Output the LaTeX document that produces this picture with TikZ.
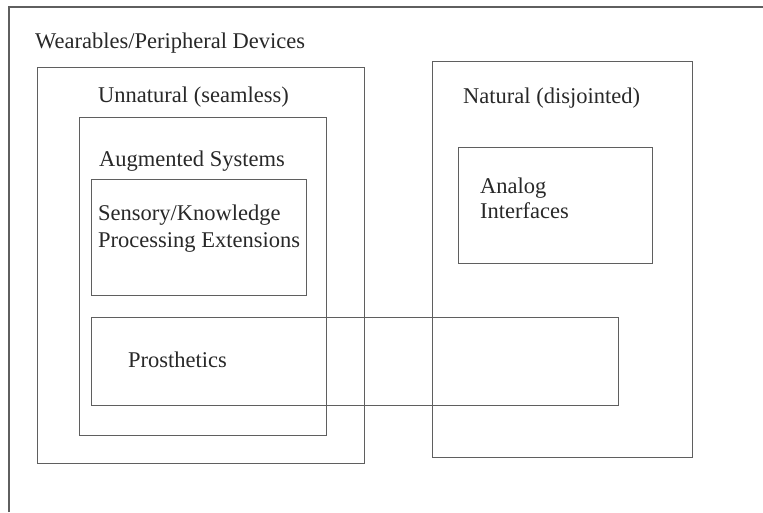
\documentclass[tikz,border=0pt]{standalone}
\usepackage{fontspec}
\setmainfont{Liberation Serif}
\usetikzlibrary{positioning}
\definecolor{linegray}{RGB}{95,95,95}
\definecolor{textgray}{RGB}{40,40,40}
\tikzset{
    box/.style={
        rectangle,
        draw=linegray,
        line width=1.3pt,
        inner sep=0pt,
        anchor=north west
    },
    title/.style={
        font=\fontsize{22.5}{26}\selectfont,
        text=textgray,
        inner sep=0pt,
        anchor=base west,
        align=left
    },
    frame/.style={
        draw=linegray,
        line width=1.3pt
    }
}
\begin{document}
\begin{tikzpicture}[x=1pt, y=-1pt]
\useasboundingbox (0,0) rectangle (763,512);
% outer frame, cut off at right and bottom
\draw[frame] (9,512) |- (763,7);
\node[title] (wearlbl) at (35,48) {Wearables/Peripheral Devices};

% Unnatural side
\node[box, minimum width=327pt, minimum height=396pt] (unnat) at (37,67) {};
\node[title] (unnatlbl) at (98,102) {Unnatural (seamless)};
\node[box, minimum width=247pt, minimum height=318pt] (aug) at (79,117) {};
\node[title] (auglbl) at (99,166) {Augmented Systems};
\node[box, minimum width=215pt, minimum height=116pt] (sens) at (91,179) {};
% base = last line
\node[title] (senslbl) at (98,247) {Sensory/Knowledge\\[1pt]Processing Extensions};

% Natural side
\node[box, minimum width=260pt, minimum height=396pt] (nat) at (432,61) {};
\node[title] (natlbl) at (463,103) {Natural (disjointed)};
\node[box, minimum width=194pt, minimum height=116pt] (analog) at (458,147) {};
\node[title] (analoglbl) at (480,218) {Analog\\[-1pt]Interfaces};

% spans both
\node[box, minimum width=527pt, minimum height=88pt] (prost) at (91,317) {};
\node[title] (prostlbl) at (128,367) {Prosthetics};
\end{tikzpicture}
\end{document}
